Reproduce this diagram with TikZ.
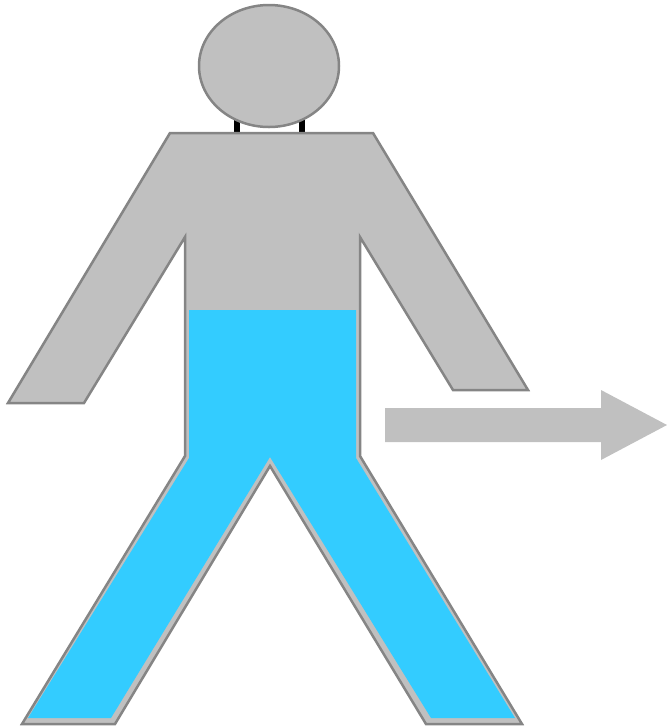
\documentclass[tikz,border=0pt]{standalone}
\definecolor{bodygray}{HTML}{C0C0C0}
\definecolor{edgegray}{HTML}{858585}
\definecolor{waterblue}{HTML}{33CCFF}
\begin{document}
\begin{tikzpicture}[x=0.02cm,y=-0.02cm]
            \useasboundingbox (0,0) rectangle (667,728);
            \draw[black,line width=0.12cm] (237,110) -- (237,134);
            \draw[black,line width=0.12cm] (302,110) -- (302,134);
            \draw[edgegray,fill=bodygray,line width=0.05cm] (269,66) ellipse (70 and 61);
            \draw[edgegray,fill=bodygray,line width=0.05cm,line join=miter] (170,133) -- (373,133) -- (528,390) -- (453,390) -- (360,237) -- (360,456) -- (522,724) -- (426,724) -- (270,466) -- (115,724) -- (22,724) -- (185,456) -- (185,237) -- (84,403) -- (8,403) -- cycle;
            \fill[waterblue] (189,310) -- (356,310) -- (356,458) -- (515,718) -- (431,718) -- (270,457) -- (111,718) -- (28,718) -- (189,458) -- cycle;
            \fill[bodygray] (385,408) -- (601,408) -- (601,390) -- (667,425) -- (601,460) -- (601,442) -- (385,442) -- cycle;
        \end{tikzpicture}
\end{document}
